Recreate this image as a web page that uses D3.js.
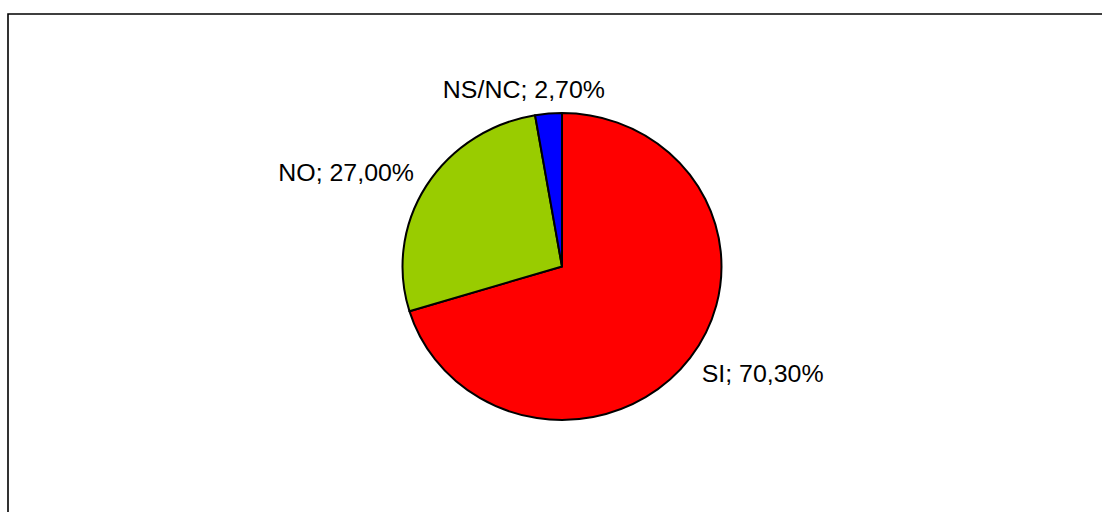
<!DOCTYPE html>
<html>
<head>
<meta charset="utf-8">
<script src="https://cdn.jsdelivr.net/npm/d3@7"></script>
<style>
  body { margin: 0; background: #fff; }
  svg { display: block; }
</style>
</head>
<body>
<div id="chart"></div>
<script>
// data
const categories = ["SI", "NO", "NS/NC"];
const values = [70.3, 27.0, 2.7];
const colors = ["#ff0000", "#99cc00", "#0000ff"];

const W = 1102, H = 512;
const cx = 562, cy = 266.5;
const r = 153.5, sx = 1.039;   // pie is a touch wider than tall
const fontSize = 24;

const svg = d3.select("#chart").append("svg")
    .attr("width", W)
    .attr("height", H);

// chart frame (only top and left edges fall inside the picture)
svg.append("path")
    .attr("d", `M8,${H + 10}V14H${W + 10}`)
    .attr("fill", "none")
    .attr("stroke", "#000")
    .attr("stroke-width", 1.6);

const data = categories.map((c, i) => ({ name: c, value: values[i], color: colors[i] }));

const pie = d3.pie()
    .value(d => d.value)
    .sort(null);

const arc = d3.arc()
    .innerRadius(0)
    .outerRadius(r);

const arcs = pie(data);

const g = svg.append("g")
    .attr("transform", `translate(${cx},${cy}) scale(${sx},1)`);

g.selectAll("path")
    .data(arcs)
    .join("path")
    .attr("d", arc)
    .attr("fill", d => d.data.color)
    .attr("stroke", "#000")
    .attr("stroke-width", 2)
    .attr("vector-effect", "non-scaling-stroke")
    .attr("stroke-linejoin", "round");

// labels outside the pie
const fmt = v => v.toFixed(2).replace(".", ",") + "%";
const capH = fontSize * 0.716;
const clamp = v => Math.max(0, Math.min(1, v));

arcs.forEach(a => {
    const mid = (a.startAngle + a.endAngle) / 2;
    const s = Math.sin(mid), c = Math.cos(mid);
    const px = cx + 1.09 * r * sx * s;
    const py = cy - 1.1 * r * c;

    const t = svg.append("text")
        .attr("font-family", "Liberation Sans, Arial, sans-serif")
        .attr("font-size", fontSize)
        .attr("fill", "#000")
        .text(a.data.name + "; " + fmt(a.data.value));

    const w = t.node().getComputedTextLength() * sx;
    const fx = clamp(0.5 - 1.7 * s);
    const fy = clamp(0.5 + 0.6 * c);
    const left = px - fx * w;
    const top = py - fy * capH;
    t.attr("transform", `translate(${left},${top + capH}) scale(${sx},1)`);
});
</script>
</body>
</html>
